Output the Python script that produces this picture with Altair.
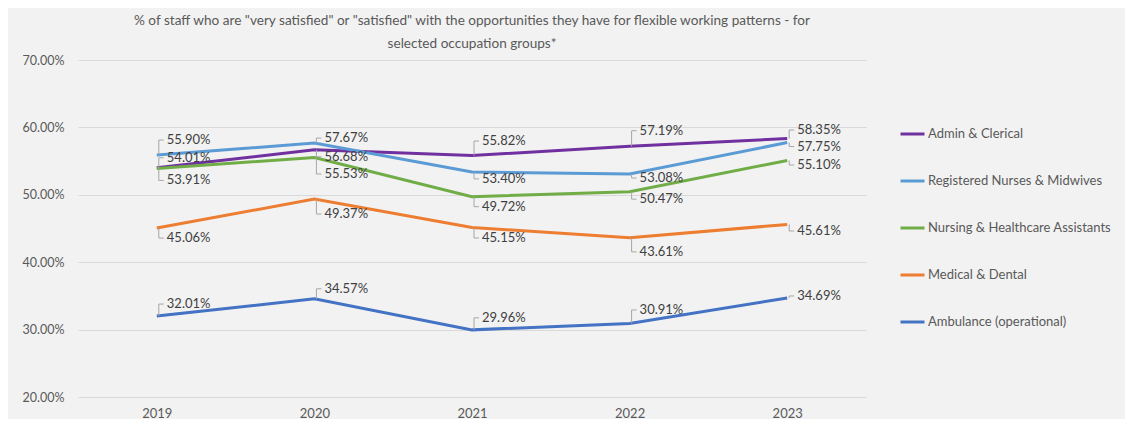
import altair as alt
import pandas as pd

years = ["2019", "2020", "2021", "2022", "2023"]
groups = ["Admin & Clerical", "Registered Nurses & Midwives",
          "Nursing & Healthcare Assistants", "Medical & Dental",
          "Ambulance (operational)"]
admin = [54.01, 56.68, 55.82, 57.19, 58.35]
nurses = [55.90, 57.67, 53.40, 53.08, 57.75]
hca = [53.91, 55.53, 49.72, 50.47, 55.10]
medical = [45.06, 49.37, 45.15, 43.61, 45.61]
ambulance = [32.01, 34.57, 29.96, 30.91, 34.69]
colors = ["#7030a0", "#5b9bd5", "#70ad47", "#ed7d31", "#4472c4"]

# label vertical offsets in pixels (layout only; positive = below point)
label_dy = {
    "Admin & Clerical": [-10, 7, -14.5, -15.6, -8.5],
    "Registered Nurses & Midwives": [-15, -5, 7, 4, 4],
    "Nursing & Healthcare Assistants": [12, 16.5, 10, 7.5, 4.6],
    "Medical & Dental": [10, 15, 10.5, 14, 6.6],
    "Ambulance (operational)": [-12, -10, -12, -13.5, -2],
}

series = [admin, nurses, hca, medical, ambulance]
rows = []
for g, vals in zip(groups, series):
    for y, v, d in zip(years, vals, label_dy[g]):
        rows.append({"year": y, "group": g, "value": v / 100, "dy": d})
df = pd.DataFrame(rows)

PLOT_W, PLOT_H = 788, 337
px_per_unit = PLOT_H / 0.5
df["lab"] = df["value"] - df["dy"] / px_per_unit

FONT = "Lato"
x = alt.X("year:O", scale=alt.Scale(type="point", padding=0.5),
          axis=alt.Axis(title=None, labelAngle=0, domain=False, ticks=False,
                        labelPadding=10, labelColor="#595959", labelFontSize=13,
                        labelFont=FONT, grid=False))
yscale = alt.Scale(domain=[0.2, 0.7], nice=False)
y = alt.Y("value:Q", scale=yscale,
          axis=alt.Axis(title=None, format=".2%", values=[0.2, 0.3, 0.4, 0.5, 0.6, 0.7],
                        domain=False, ticks=False, labelPadding=14,
                        labelColor="#595959", labelFontSize=12.5, labelFont=FONT,
                        gridColor="#d9d9d9", gridWidth=1))
color = alt.Color("group:N", scale=alt.Scale(domain=groups, range=colors),
                  legend=alt.Legend(title=None, orient="none", legendX=821, legendY=66,
                                    symbolType="stroke", symbolSize=576,
                                    symbolStrokeWidth=3, labelOffset=2,
                                    labelFontSize=13, labelColor="#595959",
                                    labelFont=FONT, clipHeight=16, rowPadding=31,
                                    padding=0, offset=0, labelLimit=300))

base = alt.Chart(df)

lines = base.mark_line(strokeWidth=3).encode(x=x, y=y, color=color)

vlead = base.mark_rule(color="#a6a6a6", strokeWidth=1, xOffset=2).encode(
    x=alt.X("year:O"), y=alt.Y("value:Q"), y2="lab:Q")
hlead = base.mark_rule(color="#a6a6a6", strokeWidth=1, xOffset=2, x2Offset=7).encode(
    x=alt.X("year:O"), x2="year:O", y=alt.Y("lab:Q"))
labels = base.mark_text(align="left", baseline="middle", dx=10, fontSize=13,
                        color="#404040", font=FONT).encode(
    x=alt.X("year:O"), y=alt.Y("lab:Q"), text=alt.Text("value:Q", format=".2%"))

chart = alt.layer(lines, vlead, hlead, labels).properties(
    width=PLOT_W, height=PLOT_H,
    title=alt.TitleParams(
        text=['% of staff who are "very satisfied" or "satisfied" with the opportunities they have for flexible working patterns - for',
              'selected occupation groups*'],
        anchor="middle", fontSize=13.6, font=FONT, fontWeight="normal",
        color="#595959", lineHeight=23, baseline="bottom", offset=-11),
    autosize=alt.AutoSizeParams(type="none"),
    padding={"left": 70, "top": 52, "right": 259, "bottom": 22},
    background="#f2f2f2",
).configure_view(stroke=None)

chart.save("out.html", embed_options={"renderer": "svg", "actions": False})
